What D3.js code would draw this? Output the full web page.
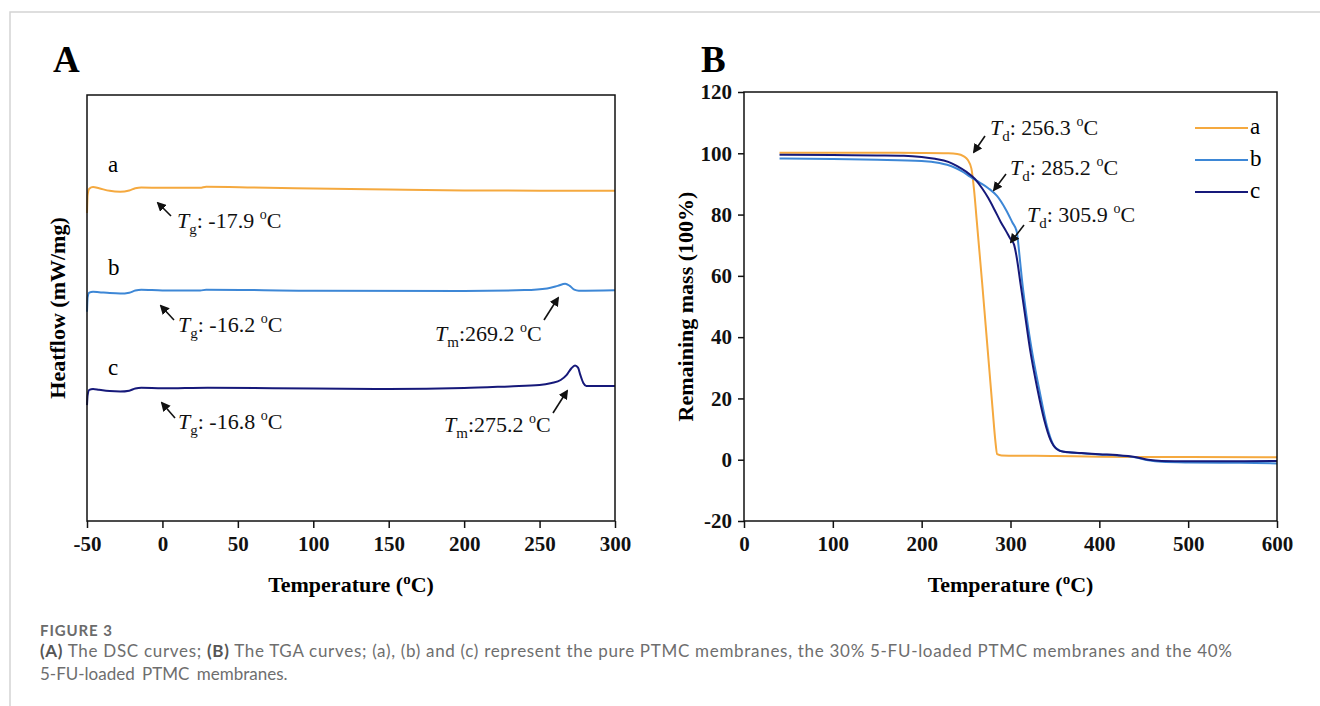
<!DOCTYPE html>
<html>
<head>
<meta charset="utf-8">
<script src="https://cdn.jsdelivr.net/npm/d3@7"></script>
<style>
  body { margin: 0; background: #fff; }
  svg { display: block; }
</style>
</head>
<body>
<div id="chart"></div>
<script>
// DSC curves (panel A): [temperature °C, heatflow, arbitrary units]
const dscA = [[-50, 72.3], [-49.6, 76.5], [-48.5, 78.0], [-46, 78.4], [-42, 78.1], [-35, 77.5], [-28, 77.3], [-22, 77.6],
  [-18, 78.1], [-14, 78.3], [0, 78.2], [25, 78.2], [29, 78.45], [60, 78.3], [100, 78.05], [150, 77.8], [200, 77.6], [250, 77.55], [300, 77.5]];
const dscB = [[-50, 49.1], [-49.6, 52.5], [-48.5, 53.6], [-46, 53.8], [-42, 53.7], [-35, 53.5], [-28, 53.4], [-22, 53.6],
  [-18, 54.1], [-14, 54.3], [0, 54.1], [25, 54.1], [29, 54.3], [100, 54.06], [200, 54.0], [240, 54.2], [255, 54.6],
  [262, 55.2], [267, 55.7], [270, 55.2], [273, 54.3], [276, 54.05], [300, 54.15]];
const dscC = [[-50, 27.2], [-49.6, 29.5], [-48.5, 30.8], [-46, 31.0], [-42, 30.8], [-35, 30.5], [-28, 30.4], [-22, 30.6],
  [-18, 31.1], [-14, 31.3], [0, 31.15], [30, 31.3], [100, 31.1], [150, 31.0], [200, 31.2], [230, 31.6], [250, 31.9],
  [258, 32.4], [264, 33.1], [268, 34.3], [271, 35.8], [273.5, 36.5], [275.5, 36.0], [277, 34.3], [279, 32.4],
  [281, 31.7], [300, 31.7]];

// TGA curves (panel B): [temperature °C, remaining mass %]
const tgaA = [[40, 100.2], [100, 100.2], [200, 100.1], [230, 100.0], [240, 99.8], [247, 99.1], [252, 97.8], [256, 95],
  [259, 88], [262, 78], [265, 68], [268, 58], [272, 44], [276, 30], [280, 16], [283, 6], [285, 1.8], [290, 1.4],
  [350, 1.2], [400, 1.0], [450, 0.9], [500, 0.9], [600, 0.8]];
const tgaB = [[40, 98.3], [100, 98.1], [150, 97.9], [200, 97.5], [220, 96.8], [235, 95.6], [245, 94.2], [255, 92.3],
  [265, 90.5], [275, 88.6], [285, 86], [295, 81.5], [302, 77.5], [307, 74.5], [310, 67], [313, 58.5], [318, 47],
  [325, 34], [333, 22], [341, 11], [348, 5], [355, 3], [365, 2.4], [380, 2.1], [400, 1.7], [420, 1.4], [440, 0.8],
  [455, -0.2], [470, -0.7], [500, -0.9], [550, -1.0], [600, -1.2]];
const tgaC = [[40, 99.5], [100, 99.4], [150, 99.3], [180, 99.2], [200, 98.8], [215, 98.2], [230, 97.2], [240, 95.8],
  [250, 94], [260, 91.6], [268, 88.6], [275, 85.4], [282, 81.6], [289, 77.6], [295, 74.6], [300, 72], [304, 70.2],
  [307, 66], [311, 58], [316, 48], [322, 36], [330, 23.5], [338, 13], [345, 6.5], [352, 3.5], [360, 2.6], [380, 2.2],
  [400, 1.8], [420, 1.5], [440, 0.9], [455, 0], [470, -0.4], [500, -0.5], [550, -0.5], [600, -0.4]];

const seriesColors = { a: '#f5a93f', b: '#3d87d6', c: '#16197a' };
const dscTicks = [-50, 0, 50, 100, 150, 200, 250, 300];
const tgaXTicks = [0, 100, 200, 300, 400, 500, 600];
const tgaYTicks = [-20, 0, 20, 40, 60, 80, 100, 120];

const svg = d3.select('#chart').append('svg').attr('width', 1320).attr('height', 706);
const serif = "'Liberation Serif', 'Times New Roman', serif";
const plainFmt = d => String(d); // hyphen minus, like the original

// page frame
svg.append('path').attr('d', 'M10,706V12H1320').attr('fill', 'none').attr('stroke', '#d4d4d4').attr('stroke-width', 1.5);

// annotation text: T with subscript, value, superscript o, C
function annot(g, x, y, sub, val) {
  const t = g.append('text').attr('x', x).attr('y', y).attr('font-family', serif).attr('font-size', 22).attr('fill', '#111');
  t.append('tspan').attr('font-style', 'italic').text('T');
  t.append('tspan').attr('font-size', 15).attr('dy', 6).text(sub);
  t.append('tspan').attr('dy', -6).text(val);
  t.append('tspan').attr('font-size', 14).attr('dy', -9).text('o');
  t.append('tspan').attr('dy', 9).text('C');
}
function arrow(g, x1, y1, x2, y2) {
  g.append('line').attr('x1', x1).attr('y1', y1).attr('x2', x2).attr('y2', y2)
    .attr('stroke', '#111').attr('stroke-width', 1.6).attr('marker-end', 'url(#head)');
}
svg.append('defs').append('marker').attr('id', 'head').attr('viewBox', '0 0 10 10')
  .attr('refX', 8).attr('refY', 5).attr('markerWidth', 6).attr('markerHeight', 6).attr('orient', 'auto')
  .append('path').attr('d', 'M0,0L10,5L0,10Z').attr('fill', '#111');

function axisTitle(g, x, y, rotate, text, sup) {
  const t = g.append('text').attr('transform', `translate(${x},${y})${rotate ? ' rotate(-90)' : ''}`)
    .attr('text-anchor', 'middle').attr('font-family', serif).attr('font-size', 22).attr('font-weight', 'bold');
  if (sup) {
    t.append('tspan').text('Temperature (');
    t.append('tspan').attr('font-size', 15).attr('dy', -8).text('o');
    t.append('tspan').attr('dy', 8).text('C)');
  } else {
    t.text(text);
  }
}
function styleAxis(g) {
  g.select('.domain').remove();
  g.selectAll('line').attr('stroke', '#111').attr('stroke-width', 1.5);
  g.selectAll('text').attr('font-family', serif).attr('font-size', 21).attr('font-weight', 'bold').attr('fill', '#111');
}

// ---------- Panel A: DSC ----------
const A = { left: 87, right: 615, top: 95, bottom: 521 };
const xA = d3.scaleLinear().domain([-50, 300]).range([A.left, A.right]);
const yA = d3.scaleLinear().domain([0, 100]).range([A.bottom, A.top]);
const gA = svg.append('g');

gA.append('text').attr('x', 53).attr('y', 72).attr('font-family', serif).attr('font-size', 37)
  .attr('font-weight', 'bold').text('A');

const lineA = d3.line().x(d => xA(d[0])).y(d => yA(d[1])).curve(d3.curveMonotoneX);
[[dscA, 'a'], [dscB, 'b'], [dscC, 'c']].forEach(([d, k]) => {
  gA.append('path').datum(d).attr('d', lineA).attr('fill', 'none')
    .attr('stroke', seriesColors[k]).attr('stroke-width', 2);
});

gA.append('g').attr('transform', `translate(0,${A.bottom})`)
  .call(d3.axisBottom(xA).tickValues(dscTicks).tickFormat(plainFmt).tickSize(7).tickPadding(8).tickSizeOuter(0))
  .call(styleAxis);

gA.append('rect').attr('x', A.left).attr('y', A.top).attr('width', A.right - A.left).attr('height', A.bottom - A.top)
  .attr('fill', 'none').attr('stroke', '#111').attr('stroke-width', 1.5);

[['a', 166], ['b', 269], ['c', 369]].forEach(([k, y]) => {
  gA.append('text').attr('x', 108).attr('y', y + 6).attr('font-family', serif).attr('font-size', 23).text(k);
});

annot(gA, 177, 228, 'g', ': -17.9 ');
arrow(gA, 171, 216, 158, 203);
annot(gA, 178, 332, 'g', ': -16.2 ');
arrow(gA, 174, 320, 161, 306);
annot(gA, 178, 429, 'g', ': -16.8 ');
arrow(gA, 175, 418, 162, 403);
annot(gA, 435, 341, 'm', ':269.2 ');
arrow(gA, 544, 320, 558, 298);
annot(gA, 444, 432, 'm', ':275.2 ');
arrow(gA, 553, 413, 567, 391);

axisTitle(gA, (A.left + A.right) / 2, 592, false, null, true);
axisTitle(gA, 65, (A.top + A.bottom) / 2, true, 'Heatflow (mW/mg)', false);

// ---------- Panel B: TGA ----------
const B = { left: 744, right: 1277, top: 92, bottom: 521 };
const xB = d3.scaleLinear().domain([0, 600]).range([B.left, B.right]);
const yB = d3.scaleLinear().domain([-20, 120]).range([B.bottom, B.top]);
const gB = svg.append('g');

gB.append('text').attr('x', 701).attr('y', 72).attr('font-family', serif).attr('font-size', 37)
  .attr('font-weight', 'bold').text('B');

const lineB = d3.line().x(d => xB(d[0])).y(d => yB(d[1])).curve(d3.curveMonotoneX);
[[tgaA, 'a'], [tgaB, 'b'], [tgaC, 'c']].forEach(([d, k]) => {
  gB.append('path').datum(d).attr('d', lineB).attr('fill', 'none')
    .attr('stroke', seriesColors[k]).attr('stroke-width', 2);
});

gB.append('g').attr('transform', `translate(0,${B.bottom})`)
  .call(d3.axisBottom(xB).tickValues(tgaXTicks).tickFormat(plainFmt).tickSize(7).tickPadding(8).tickSizeOuter(0))
  .call(styleAxis);

gB.append('g').attr('transform', `translate(${B.left},0)`)
  .call(d3.axisLeft(yB).tickValues(tgaYTicks).tickFormat(plainFmt).tickSize(6).tickPadding(6).tickSizeOuter(0))
  .call(styleAxis);

gB.append('rect').attr('x', B.left).attr('y', B.top).attr('width', B.right - B.left).attr('height', B.bottom - B.top)
  .attr('fill', 'none').attr('stroke', '#111').attr('stroke-width', 1.5);

annot(gB, 990, 135, 'd', ': 256.3 ');
arrow(gB, 985, 136, 974, 152);
annot(gB, 1010, 175, 'd', ': 285.2 ');
arrow(gB, 1006, 174, 994, 190);
annot(gB, 1027, 222, 'd', ': 305.9 ');
arrow(gB, 1024, 225, 1011, 242);

[['a', 128], ['b', 160], ['c', 192]].forEach(([k, y]) => {
  gB.append('line').attr('x1', 1195).attr('x2', 1248).attr('y1', y).attr('y2', y)
    .attr('stroke', seriesColors[k]).attr('stroke-width', 2.2);
  gB.append('text').attr('x', 1250).attr('y', y + 6).attr('font-family', serif).attr('font-size', 23).text(k);
});

axisTitle(gB, (B.left + B.right) / 2, 592, false, null, true);
axisTitle(gB, 693, (B.top + B.bottom) / 2, true, 'Remaining mass (100%)', false);

// ---------- Caption ----------
const cap = svg.append('g').attr('font-family', "Lato, 'Open Sans', sans-serif");
cap.append('text').attr('x', 40).attr('y', 636).attr('font-size', 15).attr('font-weight', 'bold')
  .attr('fill', '#6b6b6b').attr('letter-spacing', 0.9).text('FIGURE 3');
const l1 = cap.append('text').attr('x', 40).attr('y', 657).attr('font-size', 16).attr('fill', '#6e6e6e');
l1.append('tspan').attr('font-weight', 'bold').attr('fill', '#555').text('(A)');
l1.append('tspan').text(' The DSC curves; ');
l1.append('tspan').attr('font-weight', 'bold').attr('fill', '#555').text('(B)');
l1.append('tspan').text(' The TGA curves; (a), (b) and (c) represent the pure PTMC membranes, the 30% 5-FU-loaded PTMC membranes and the 40%');
const l2 = cap.append('text').attr('x', 40).attr('y', 680).attr('fill', '#6e6e6e')
  .attr('word-spacing', 3).text('5-FU-loaded PTMC membranes.');
// size the caption so the first line fills the same width as in the figure
const fitSize = Math.min(17, 16 * 1192 / l1.node().getComputedTextLength());
l1.attr('font-size', fitSize).attr('textLength', 1192).attr('lengthAdjust', 'spacing');
l2.attr('font-size', fitSize);
</script>
</body>
</html>
